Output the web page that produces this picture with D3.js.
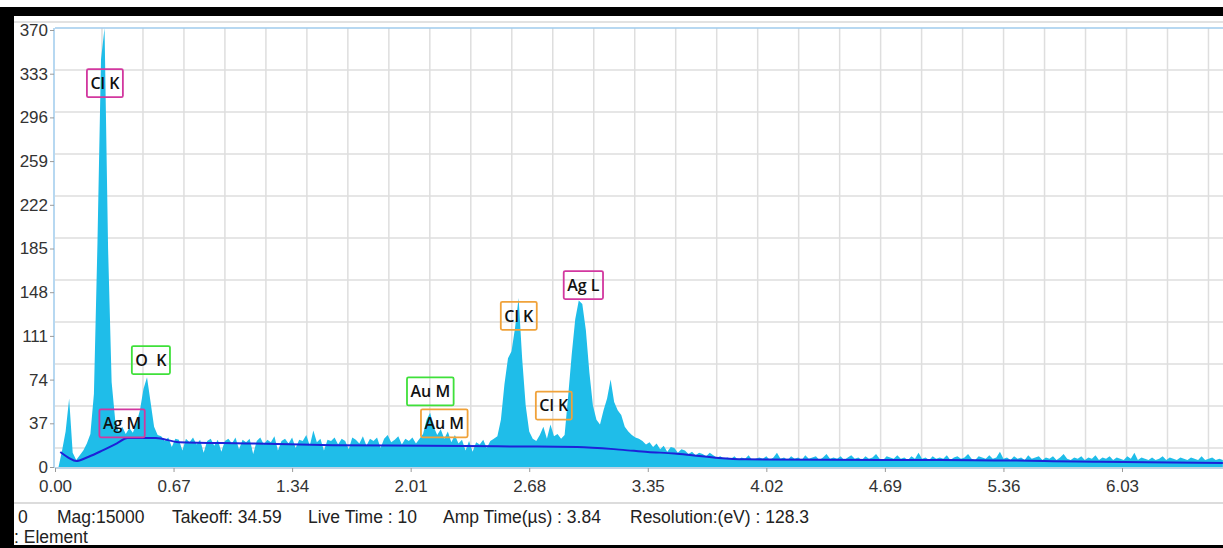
<!DOCTYPE html>
<html>
<head>
<meta charset="utf-8">
<script src="https://cdn.jsdelivr.net/npm/d3@7"></script>
<style>
  body { margin: 0; background: #fff; }
  svg { display: block; }
</style>
</head>
<body>
<svg></svg>
<script>
// spectrum: counts per 0.02 keV channel, starting at 0.00 keV
let channelStep = 0.02
let counts = [
  0, 0, 14, 30, 58, 12, 6, 10, 14, 20,
  28, 62, 190, 345, 372, 185, 72, 40, 30, 34,
  28, 33, 29, 37, 48, 66, 76, 55, 34, 27,
  26, 22, 25, 17, 24, 23, 14, 24, 21, 25,
  19, 23, 12, 22, 24, 18, 23, 13, 22, 24,
  20, 25, 15, 23, 21, 24, 11, 22, 25, 19,
  23, 21, 26, 14, 22, 24, 20, 25, 16, 23,
  22, 27, 18, 31, 21, 24, 14, 23, 22, 25,
  19, 24, 22, 15, 25, 23, 20, 26, 18, 24,
  22, 25, 16, 24, 27, 21, 23, 26, 19, 24,
  22, 25, 20, 24, 28, 40, 46, 34, 27, 32,
  24, 30, 21, 27, 20, 23, 14, 22, 13, 21,
  19, 23, 16, 22, 24, 26, 40, 70, 92, 98,
  118, 143, 92, 52, 30, 24, 22, 27, 34, 24,
  36, 26, 28, 24, 27, 60, 95, 125, 141, 138,
  116, 80, 52, 40, 36, 48, 58, 74, 55, 48,
  44, 34, 30, 27, 25, 24, 22, 19, 21, 17,
  20, 15, 18, 13, 17, 16, 12, 15, 14, 11,
  13, 10, 12, 11, 9, 12, 10, 8, 9, 7,
  8, 7, 9, 6, 8, 7, 10, 6, 7, 8,
  7, 9, 6, 8, 12, 7, 8, 6, 9, 7,
  8, 6, 10, 7, 8, 9, 6, 8, 11, 7,
  8, 7, 9, 6, 8, 10, 7, 8, 6, 9,
  7, 8, 11, 7, 6, 9, 8, 7, 10, 7,
  8, 6, 9, 7, 12, 7, 8, 6, 9, 7,
  8, 7, 10, 6, 8, 9, 7, 8, 11, 7,
  6, 9, 8, 7, 10, 7, 8, 13, 7, 8,
  6, 9, 7, 8, 6, 10, 7, 8, 9, 6,
  8, 7, 9, 6, 8, 11, 7, 6, 8, 7,
  9, 6, 8, 7, 10, 6, 8, 7, 9, 6,
  8, 7, 6, 9, 7, 12, 6, 8, 7, 6,
  8, 6, 7, 9, 6, 8, 7, 6, 8, 7,
  6, 8, 7, 6, 9, 6, 7, 8, 6, 7,
  6
]

// background fit (blue line)
let bgKeV    = [0.03, 0.08, 0.12, 0.18, 0.25, 0.35, 0.41, 0.57, 0.70, 1.08, 1.57, 2.10, 2.50, 2.95, 3.21, 3.35, 3.50, 3.60, 3.75, 3.90, 4.70, 5.00, 5.90, 6.60]
let bgCounts = [12.7, 7.5, 5, 8, 12.7, 20, 24.5, 24.5, 21, 20, 18.5, 18, 17.5, 17, 14.5, 12.7, 11.5, 10, 7.6, 6.5, 6, 6, 4.5, 3.4]

// peak labels
let peakNames  = ['Cl K', 'O  K', 'Ag M', 'Au M', 'Au M', 'Cl K', 'Cl K', 'Ag L']
let peakKeV    = [0.282, 0.542, 0.379, 2.121, 2.200, 2.621, 2.819, 2.986]
let peakCounts = [325, 90.5, 37, 64, 37, 128, 52, 154]
let peakKind   = ['magenta', 'green', 'magenta', 'green', 'orange', 'orange', 'orange', 'magenta']

let yTicks = [0, 37, 74, 111, 148, 185, 222, 259, 296, 333, 370]
let xTicks = [0.00, 0.67, 1.34, 2.01, 2.68, 3.35, 4.02, 4.69, 5.36, 6.03]

// the instrument grid is not tied to the tick values
let gridKeVStart = 0.2655
let gridKeVStep = 0.2316
let gridCountStart = 336.1
let gridCountStep = 35.56

let footer = [
  ['0', 18], ['Mag:15000', 57], ['Takeoff: 34.59', 172], ['Live Time : 10', 308],
  ['Amp Time(µs) : 3.84', 443], ['Resolution:(eV) : 128.3', 630]
]

let width = 1223
let height = 548
let plotLeft = 55
let plotTop = 28
let plotBottom = 467

let kindColor = { magenta: '#d2379f', green: '#3fe03a', orange: '#f0a23a' }

let svg = d3.select('svg').attr('width', width).attr('height', height)

svg.append('rect').attr('width', width).attr('height', height).attr('fill', '#fff')

let x = d3.scaleLinear().domain([0, 6.03]).range([plotLeft, 1122])
let y = d3.scaleLinear().domain([0, 370]).range([plotBottom, 30])

// grid
let grid = svg.append('g')
let gridX = d3.range(gridKeVStart, x.invert(width), gridKeVStep)
let gridY = d3.range(gridCountStart, 0, -gridCountStep)
grid.selectAll('line.v').data(gridX).join('line')
    .attr('x1', d => x(d)).attr('x2', d => x(d))
    .attr('y1', plotTop).attr('y2', plotBottom)
    .attr('stroke', '#dedede').attr('stroke-width', 1.5)
grid.selectAll('line.h').data(gridY).join('line')
    .attr('x1', plotLeft).attr('x2', width)
    .attr('y1', d => y(d)).attr('y2', d => y(d))
    .attr('stroke', '#dedede').attr('stroke-width', 1.5)

// spectrum
let spec = counts.map((c, i) => [i * channelStep, c])
let area = d3.area()
    .x(d => x(d[0]))
    .y0(y(0))
    .y1(d => Math.max(plotTop, y(d[1])))
svg.append('path').datum(spec.filter(d => d[0] >= 0.02))
   .attr('d', area)
   .attr('fill', '#1fbde9')

// background line
svg.append('path').datum(bgKeV.map((k, i) => [k, bgCounts[i]]))
   .attr('d', d3.line().x(d => x(d[0])).y(d => y(d[1])).curve(d3.curveMonotoneX))
   .attr('fill', 'none').attr('stroke', '#1d22d8').attr('stroke-width', 2)

// frame
svg.append('line').attr('x1', plotLeft).attr('x2', width).attr('y1', plotTop).attr('y2', plotTop)
   .attr('stroke', '#9fcbec').attr('stroke-width', 1.5)
svg.append('line').attr('x1', plotLeft - 1).attr('x2', plotLeft - 1).attr('y1', plotTop).attr('y2', plotBottom + 1)
   .attr('stroke', '#9fcbec').attr('stroke-width', 1.5)
svg.append('line').attr('x1', plotLeft).attr('x2', width).attr('y1', plotBottom + 1).attr('y2', plotBottom + 1)
   .attr('stroke', '#a9c6de').attr('stroke-width', 1.5)

// axes
let tickFont = 'Liberation Sans'
let yAxis = d3.axisLeft(y).tickValues(yTicks).tickSize(4).tickPadding(2).tickFormat(d3.format('d'))
let yg = svg.append('g').attr('transform', `translate(${plotLeft - 1},0)`).call(yAxis)
yg.select('.domain').remove()
yg.selectAll('.tick line').attr('stroke', '#9a9a9a')
yg.selectAll('text').attr('fill', '#333').style('font-family', tickFont).style('font-size', '17px')

let xAxis = d3.axisBottom(x).tickValues(xTicks).tickSize(4).tickPadding(8).tickFormat(d3.format('.2f'))
let xg = svg.append('g').attr('transform', `translate(0,${plotBottom + 1})`).call(xAxis)
xg.select('.domain').remove()
xg.selectAll('.tick line').attr('stroke', '#9a9a9a')
xg.selectAll('text').attr('fill', '#333').style('font-family', tickFont).style('font-size', '17px')

// peak labels
let labels = svg.append('g').selectAll('g').data(peakNames).join('g')
    .attr('transform', (d, i) => `translate(${x(peakKeV[i])},${y(peakCounts[i])})`)
labels.append('text')
    .text(d => d)
    .attr('text-anchor', 'middle').attr('dy', '0.36em')
    .style('white-space', 'pre')
    .style('font-family', 'Open Sans').style('font-weight', 600).style('font-size', '16px')
    .attr('fill', '#111')
labels.each(function (d, i) {
  let g = d3.select(this)
  let w = g.select('text').node().getComputedTextLength() + 7
  g.insert('rect', 'text')
   .attr('x', -w / 2).attr('y', -14).attr('width', w).attr('height', 28)
   .attr('rx', 1.5)
   .attr('fill', 'none').attr('stroke', kindColor[peakKind[i]]).attr('stroke-width', 1.8)
})

// footer
svg.append('line').attr('x1', 14).attr('x2', width).attr('y1', 503).attr('y2', 503)
   .attr('stroke', '#d0d0d0').attr('stroke-width', 1.5)
svg.append('g').selectAll('text').data(footer).join('text')
   .attr('x', d => d[1]).attr('y', 523)
   .text(d => d[0])
   .attr('fill', '#222')
   .style('font-family', 'Liberation Sans').style('font-size', '17.5px')
svg.append('text').attr('x', 14).attr('y', 543).text(': Element')
   .attr('fill', '#222')
   .style('font-family', 'Liberation Sans').style('font-size', '17.5px')

// dark photo border
svg.append('rect').attr('x', 0).attr('y', 7).attr('width', width).attr('height', 9).attr('fill', '#000')
svg.append('rect').attr('x', 0).attr('y', 7).attr('width', 14).attr('height', height - 7).attr('fill', '#000')
svg.append('rect').attr('x', 0).attr('y', 545).attr('width', width).attr('height', 3).attr('fill', '#000')
svg.append('line').attr('x1', 14).attr('x2', width).attr('y1', 22).attr('y2', 22)
   .attr('stroke', '#d8d8d8').attr('stroke-width', 1.5)
</script>
</body>
</html>
